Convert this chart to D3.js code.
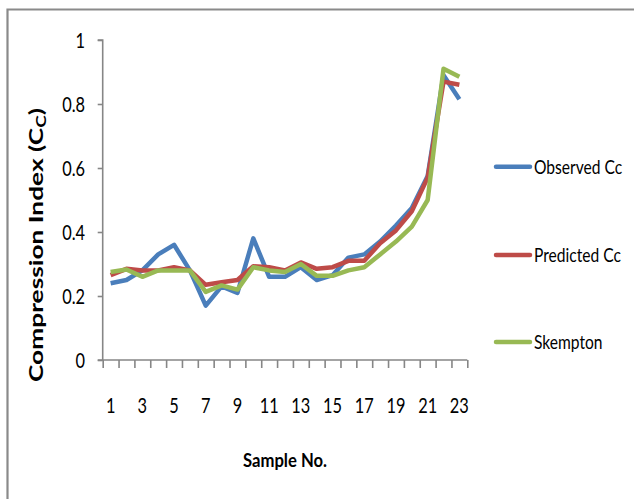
<!DOCTYPE html>
<html>
<head>
<meta charset="utf-8">
<script src="https://cdn.jsdelivr.net/npm/d3@7"></script>
<style>
  html, body { margin: 0; padding: 0; background: #fff; }
  svg { display: block; }
  text { font-family: Lato, "Open Sans", sans-serif; fill: #000; }
</style>
</head>
<body>
<svg id="chart" width="634" height="499"></svg>
<script>
const samples = d3.range(1, 24);
const observed  = [0.24,0.25,0.28,0.33,0.36,0.28,0.17,0.23,0.21,0.38,0.26,0.26,0.29,0.25,0.265,0.32,0.33,0.37,0.42,0.475,0.575,0.89,0.815];
const predicted = [0.265,0.285,0.28,0.28,0.29,0.28,0.235,0.243,0.25,0.293,0.29,0.28,0.305,0.285,0.29,0.31,0.31,0.365,0.405,0.465,0.57,0.87,0.86];
const skempton  = [0.275,0.283,0.26,0.28,0.28,0.28,0.213,0.233,0.22,0.29,0.28,0.275,0.30,0.263,0.263,0.28,0.29,0.33,0.37,0.417,0.50,0.91,0.885];
const yTicks = [0, 0.2, 0.4, 0.6, 0.8, 1];
const xTickLabels = [1,3,5,7,9,11,13,15,17,19,21,23];
const seriesNames = ["Observed Cc", "Predicted Cc", "Skempton"];
const seriesColors = ["#4A7EBB", "#BE4B48", "#98B954"];
const seriesData = [observed, predicted, skempton];

const svg = d3.select("#chart");
const axisColor = "#868686";
const sx = 0.78;

// outer border
svg.append("path")
  .attr("d", "M7.5,499 V9.5 H634")
  .attr("fill", "none").attr("stroke", "#8a8a8a").attr("stroke-width", 2.2);

const x = d3.scaleLinear().domain([0.5, 23.5]).range([102.7, 467.3]);
const y = d3.scaleLinear().domain([0, 1]).range([360, 40]);

// y axis
const yAxis = svg.append("g").attr("transform", "translate(102.7,0)")
  .call(d3.axisLeft(y).tickValues(yTicks).tickSize(5).tickFormat(""));
yAxis.selectAll("path, line").attr("stroke", axisColor).attr("stroke-width", 1.6);
yAxis.select(".domain").attr("d", "M-5,40H0V360H-5");

// x axis
const xAxis = svg.append("g").attr("transform", "translate(0,360)")
  .call(d3.axisBottom(x).tickValues(d3.range(0.5, 24, 1)).tickSize(8).tickFormat(""));
xAxis.selectAll("path, line").attr("stroke", axisColor).attr("stroke-width", 1.6);
xAxis.select(".domain").attr("d", `M${x(0.5)},0H${x(23.5)}`);

// y tick labels
svg.append("g").selectAll("g").data(yTicks).join("g")
  .attr("transform", d => `translate(85,${y(d)}) scale(${sx},1)`)
  .append("text")
  .attr("text-anchor", "end").attr("dy", "0.36em")
  .attr("font-size", 21)
  .text(d => d === 0 ? "0" : d === 1 ? "1" : String(d));

// x tick labels
svg.append("g").selectAll("g").data(xTickLabels).join("g")
  .attr("transform", d => `translate(${x(d)},413) scale(${sx},1)`)
  .append("text")
  .attr("text-anchor", "middle")
  .attr("font-size", 21)
  .text(d => d);

// axis titles
svg.append("text")
  .attr("x", 285).attr("y", 467)
  .attr("text-anchor", "middle")
  .attr("font-size", 18).attr("font-weight", "bold")
  .attr("textLength", 84).attr("lengthAdjust", "spacingAndGlyphs")
  .text("Sample No.");

const yt = svg.append("text")
  .attr("transform", "translate(43,245) rotate(-90)")
  .attr("text-anchor", "middle")
  .attr("font-size", 18).attr("font-weight", "bold")
  .attr("textLength", 274).attr("lengthAdjust", "spacingAndGlyphs");
yt.append("tspan").text("Compression Index (C");
yt.append("tspan").attr("font-size", 13).attr("dy", 3).text("C");
yt.append("tspan").attr("dy", -3).text(")");

// lines
const line = d3.line().x((d, i) => x(samples[i])).y(d => y(d));
seriesData.forEach((s, k) => {
  svg.append("path").datum(s)
    .attr("d", line)
    .attr("fill", "none")
    .attr("stroke", seriesColors[k])
    .attr("stroke-width", 4.5)
    .attr("stroke-linejoin", "round");
});

// legend
const legendY = [166.7, 255, 342];
seriesNames.forEach((name, k) => {
  svg.append("line")
    .attr("x1", 496).attr("x2", 530)
    .attr("y1", legendY[k]).attr("y2", legendY[k])
    .attr("stroke", seriesColors[k]).attr("stroke-width", 4.5)
    .attr("stroke-linecap", "round");
  svg.append("g")
    .attr("transform", `translate(534,${legendY[k]}) scale(${sx},1)`)
    .append("text")
    .attr("dy", "0.36em")
    .attr("font-size", 20)
    .text(name);
});
</script>
</body>
</html>
